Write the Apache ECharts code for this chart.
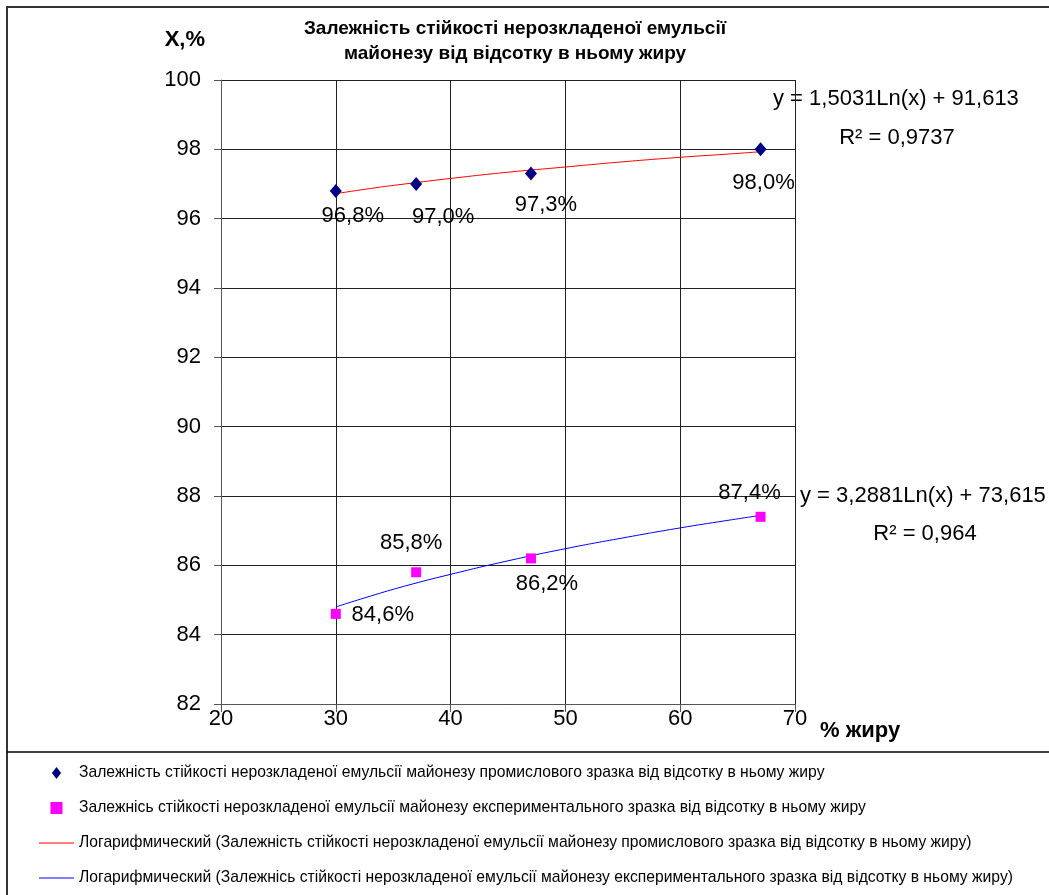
<!DOCTYPE html>
<html>
<head>
<meta charset="utf-8">
<script src="https://cdn.jsdelivr.net/npm/echarts@6/dist/echarts.min.js"></script>
<style>html,body{margin:0;padding:0;background:#fff;}#c{width:1049px;height:895px;}</style>
</head>
<body>
<div id="c"></div>
<script>
// ---- data ----
const fatX = [30, 37, 47, 67];
const industrialY = [96.8, 97.0, 97.3, 98.0];
const experimentalY = [84.6, 85.8, 86.2, 87.4];
// trend curves
const trendX = [30, 33, 36, 40, 45, 50, 55, 60, 64, 67];
const industrialTrendY = [96.72, 96.87, 97.00, 97.16, 97.34, 97.49, 97.64, 97.77, 97.86, 97.93];
const experimentalTrendY = [84.80, 85.11, 85.40, 85.74, 86.13, 86.48, 86.79, 87.08, 87.29, 87.44];
const xTicks = [20, 30, 40, 50, 60, 70];
const yTicks = [82, 84, 86, 88, 90, 92, 94, 96, 98, 100];

const nameInd = 'Залежність стійкості нерозкладеної емульсії майонезу промислового зразка від відсотку в ньому жиру';
const nameExp = 'Залежнісь стійкості нерозкладеної емульсії майонезу експериментального зразка від відсотку в ньому жиру';
const nameIndTrend = 'Логарифмический (Залежність стійкості нерозкладеної емульсії майонезу промислового зразка від відсотку в ньому жиру)';
const nameExpTrend = 'Логарифмический (Залежнісь стійкості нерозкладеної емульсії майонезу експериментального зразка від відсотку в ньому жиру)';
const eqInd = ['y = 1,5031Ln(x) + 91,613', 'R² = 0,9737'];
const eqExp = ['y = 3,2881Ln(x) + 73,615', 'R² = 0,964'];

// label offsets from the marker centre (style only)
const indOffsets = [[17, 25], [27, 33], [15, 31], [3, 34]];
const expOffsets = [[47, 1], [-5, -29], [16, 26], [-11, -24]];

const FONT = '"Liberation Sans", Arial, sans-serif';
const fmt = v => v.toFixed(1).replace('.', ',') + '%';

function pts(xs, ys, offs, size) {
  return xs.map((x, i) => ({
    value: [x, ys[i]],
    label: { position: [size[0] / 2 + offs[i][0], size[1] / 2 + offs[i][1]] }
  }));
}

const chart = echarts.init(document.getElementById('c'), null, { renderer: 'canvas' });
const lbl = {
  show: true, align: 'center', verticalAlign: 'middle', opacity: 1,
  fontFamily: FONT, fontSize: 22, color: '#000',
  formatter: p => fmt(p.value[1])
};
const diamondSize = [12, 14];
const squareSize = [10, 10];

chart.setOption({
  animation: false,
  backgroundColor: '#fff',
  title: {
    text: 'Залежність стійкості нерозкладеної емульсії\nмайонезу від відсотку в ньому жиру',
    left: 515, top: 16, padding: 0, textAlign: 'center',
    textStyle: { fontFamily: FONT, fontSize: 19, fontWeight: 'bold', color: '#000', lineHeight: 25 }
  },
  grid: { left: 221, right: 254, top: 80, bottom: 191, containLabel: false },
  xAxis: {
    type: 'value', min: 20, max: 70, interval: 10,
    name: '% жиру', nameLocation: 'end', nameGap: 25,
    nameTextStyle: { fontFamily: FONT, fontSize: 22, fontWeight: 'bold', color: '#000', verticalAlign: 'top', padding: [16, 0, 0, 0] },
    axisLine: { show: true, lineStyle: { color: '#555', width: 1 } },
    axisTick: { show: true, inside: false, length: 8, lineStyle: { color: '#555' } },
    axisLabel: { margin: 4, fontFamily: FONT, fontSize: 22, color: '#000', formatter: v => xTicks.includes(v) ? String(v) : '' },
    splitLine: { show: true, lineStyle: { color: '#222', width: 1 } }
  },
  yAxis: {
    type: 'value', min: 82, max: 100, interval: 2,
    name: 'X,%', nameLocation: 'end', nameGap: 40,
    nameTextStyle: { fontFamily: FONT, fontSize: 22, fontWeight: 'bold', color: '#000', align: 'right', verticalAlign: 'middle', padding: [6, 16, 0, 0] },
    axisLine: { show: true, lineStyle: { color: '#555', width: 1 } },
    axisTick: { show: true, inside: false, length: 7, lineStyle: { color: '#555' } },
    axisLabel: { margin: 20, fontFamily: FONT, fontSize: 22, color: '#000', formatter: v => yTicks.includes(v) ? String(v) : '' },
    splitLine: { show: true, lineStyle: { color: '#222', width: 1 } }
  },
  legend: {
    orient: 'vertical', left: 39, top: 765, padding: 0,
    itemWidth: 35, itemHeight: 12, itemGap: 19,
    symbolKeepAspect: true,
    textStyle: { fontFamily: FONT, fontSize: 15.7, color: '#000', lineHeight: 16 },
    data: [
      { name: nameInd, icon: 'path://M5,0L10,6.5L5,13L0,6.5Z', itemStyle: { color: '#000080', opacity: 1 } },
      { name: nameExp, icon: 'path://M0,0L10,0L10,10L0,10Z', itemStyle: { color: '#ff00ff', opacity: 1 } },
      { name: nameIndTrend, icon: 'path://M0,0L35,0L35,1.2L0,1.2Z', itemStyle: { color: '#ff0000' } },
      { name: nameExpTrend, icon: 'path://M0,0L35,0L35,1.2L0,1.2Z', itemStyle: { color: '#0000ff' } }
    ]
  },
  series: [
    {
      name: nameIndTrend, type: 'line', smooth: true, symbol: 'none', z: 2,
      lineStyle: { color: '#ff0000', width: 1 }, itemStyle: { color: '#ff0000' },
      data: trendX.map((x, i) => [x, industrialTrendY[i]])
    },
    {
      name: nameExpTrend, type: 'line', smooth: true, symbol: 'none', z: 2,
      lineStyle: { color: '#0000ff', width: 1 }, itemStyle: { color: '#0000ff' },
      data: trendX.map((x, i) => [x, experimentalTrendY[i]])
    },
    {
      name: nameInd, type: 'scatter', symbol: 'diamond', symbolSize: diamondSize, z: 3,
      itemStyle: { color: '#000080', opacity: 1 },
      label: lbl,
      data: pts(fatX, industrialY, indOffsets, diamondSize)
    },
    {
      name: nameExp, type: 'scatter', symbol: 'rect', symbolSize: squareSize, z: 3,
      itemStyle: { color: '#ff00ff', opacity: 1 },
      label: lbl,
      data: pts(fatX, experimentalY, expOffsets, squareSize)
    }
  ],
  graphic: [
    { type: 'rect', silent: true, z: 0, shape: { x: 7, y: 7, width: 1060, height: 910 }, style: { fill: 'none', stroke: '#333', lineWidth: 2 } },
    { type: 'line', silent: true, shape: { x1: 7, y1: 752, x2: 1049, y2: 752 }, style: { stroke: '#000', lineWidth: 1.5 } },
    { type: 'text', left: 773, top: 88, style: { text: eqInd[0], font: '22px ' + FONT, fill: '#000' } },
    { type: 'text', x: 897, y: 138, style: { text: eqInd[1], font: '22px ' + FONT, fill: '#000', align: 'center', verticalAlign: 'middle' } },
    { type: 'text', left: 800, top: 485, style: { text: eqExp[0], font: '22px ' + FONT, fill: '#000' } },
    { type: 'text', x: 925, y: 534, style: { text: eqExp[1], font: '22px ' + FONT, fill: '#000', align: 'center', verticalAlign: 'middle' } }
  ]
});
</script>
</body>
</html>
